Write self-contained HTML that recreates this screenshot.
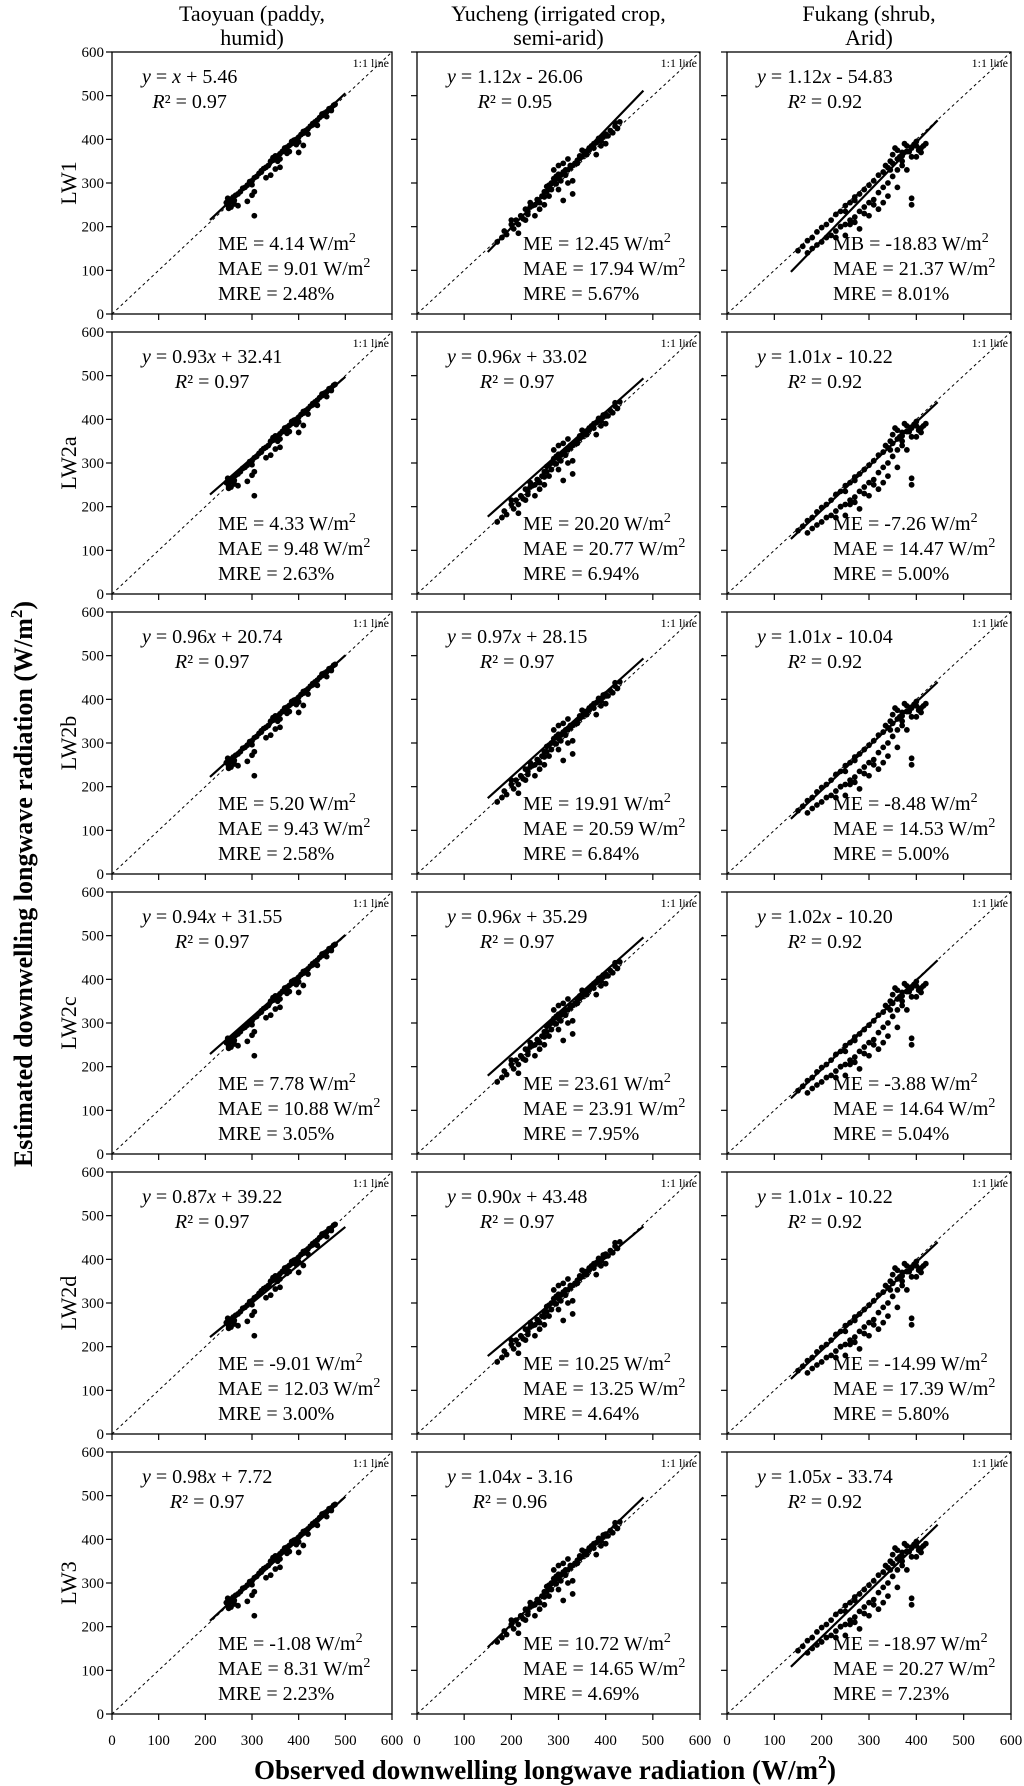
<!DOCTYPE html>
<html><head><meta charset="utf-8">
<style>
html,body{margin:0;padding:0;background:#fff;}
svg{display:block;font-family:"Liberation Serif",serif;}
</style></head>
<body>
<svg id="fig" width="1024" height="1786" viewBox="0 0 1024 1786" xmlns="http://www.w3.org/2000/svg"></svg>
<script>
// ---- data ----
const sites = ["Taoyuan","Yucheng","Fukang"];
const siteTitle1 = ["Taoyuan (paddy,","Yucheng (irrigated crop,","Fukang (shrub,"];
const siteTitle2 = ["humid)","semi-arid)","Arid)"];
const models = ["LW1","LW2a","LW2b","LW2c","LW2d","LW3"];
const xTicks = [0,100,200,300,400,500,600];
const yTicks = [0,100,200,300,400,500,600];

const taoObs = [245,250,252,255,258,262,265,270,275,280,285,290,295,300,305,310,315,320,325,330,335,340,345,350,355,360,365,370,375,380,385,390,395,400,405,410,415,420,425,430,435,440,445,450,455,460,465,470,475,478,
 250,260,300,320,340,350,360,370,380,390,400,410,420,430,440,450,460,470,
 270,290,300,305,340,330,350,360,400,410,305,248,255,262,345,355,365,375,385,395];
const taoEst = [255,248,262,258,265,260,272,275,280,288,290,295,303,305,312,315,322,325,333,336,340,349,352,356,362,367,372,375,382,386,390,396,400,405,411,414,420,424,430,433,440,444,450,454,460,463,470,472,478,480,
 242,268,296,328,350,362,355,380,372,398,394,418,412,436,432,458,452,466,
 248,258,272,280,318,312,332,336,370,386,225,265,245,252,358,350,372,368,395,388];

const yuObs = [170,180,185,190,200,205,210,215,220,225,230,235,240,245,250,255,260,265,270,275,280,285,290,295,300,305,310,315,320,325,330,335,340,345,350,355,360,365,370,375,380,385,390,395,400,405,410,415,420,425,430,
 200,215,230,240,260,270,280,290,300,310,320,340,360,380,400,420,250,270,300,330,350,390,330,310,290,300,310,320,
 235,255,275,285,295,305,315,325,345,355,365,375,385,395];
const yuEst = [165,175,190,182,205,195,215,205,225,218,240,228,245,248,250,262,255,270,268,280,295,285,300,298,310,305,325,318,330,335,340,345,352,356,360,368,372,375,385,380,392,398,396,405,412,408,420,415,430,425,440,
 215,185,215,255,240,280,270,310,285,322,300,345,365,365,390,438,225,250,320,305,375,385,275,260,330,340,345,355,
 235,262,292,300,315,318,330,340,362,372,380,390,402,410];

const fkObs = [150,160,170,180,190,200,210,220,230,240,250,260,270,280,290,300,310,320,330,340,350,360,370,380,390,400,410,420,
 170,180,190,200,210,220,230,240,250,260,270,280,290,300,310,320,330,340,350,360,370,
 230,240,250,260,270,280,290,300,310,320,330,340,390,390,250,270,360,380,400,
 350,360,370,380,390,400,355,365,375,385,395,405,345,415,335,345,370,390,410];
const fkEst = [145,155,168,175,188,198,205,215,228,235,248,255,268,275,285,295,305,318,325,335,345,355,362,372,382,385,380,390,
 140,150,158,165,175,180,190,200,205,215,222,235,245,255,262,278,290,300,315,330,340,
 175,200,180,205,210,195,230,225,250,240,255,270,250,265,235,260,290,330,360,
 365,375,370,385,380,395,380,360,390,372,388,375,350,385,340,330,350,360,370];

const obsBySite = [taoObs, yuObs, fkObs];
const estBySite = [taoEst, yuEst, fkEst];

// regression per panel [row][col]
const slopes = [[1.00,1.12,1.12],[0.93,0.96,1.01],[0.96,0.97,1.01],[0.94,0.96,1.02],[0.87,0.90,1.01],[0.98,1.04,1.05]];
const intercepts = [[5.46,-26.06,-54.83],[32.41,33.02,-10.22],[20.74,28.15,-10.04],[31.55,35.29,-10.20],[39.22,43.48,-10.22],[7.72,-3.16,-33.74]];
const r2 = [["0.97","0.95","0.92"],["0.97","0.97","0.92"],["0.97","0.97","0.92"],["0.97","0.97","0.92"],["0.97","0.97","0.92"],["0.97","0.96","0.92"]];
const meVals = [["4.14","12.45","-18.83"],["4.33","20.20","-7.26"],["5.20","19.91","-8.48"],["7.78","23.61","-3.88"],["-9.01","10.25","-14.99"],["-1.08","10.72","-18.97"]];
const maeVals = [["9.01","17.94","21.37"],["9.48","20.77","14.47"],["9.43","20.59","14.53"],["10.88","23.91","14.64"],["12.03","13.25","17.39"],["8.31","14.65","20.27"]];
const mreVals = [["2.48","5.67","8.01"],["2.63","6.94","5.00"],["2.58","6.84","5.00"],["3.05","7.95","5.04"],["3.00","4.64","5.80"],["2.23","4.69","7.23"]];
const fitStart = [210,150,135];
const fitEnd = [500,480,445];

// ---- layout ----
const colLeft = [112,417,727];
const colW = [280,283,284];
const rowTop = [52,332,612,892,1172,1452];
const rowH = 262;
const NS = "http://www.w3.org/2000/svg";
const svg = document.getElementById('fig');
function mk(tag, attrs, parent){
  const e = document.createElementNS(NS, tag);
  for (const k in attrs) e.setAttribute(k, attrs[k]);
  (parent||svg).appendChild(e);
  return e;
}

for (let c=0;c<3;c++){
  const cx = colLeft[c]+colW[c]/2;
  const t1 = mk('text',{x:cx,y:21,'text-anchor':'middle','font-size':'22'});
  
  
  const a = mk('tspan',{x:cx},t1); a.textContent = siteTitle1[c];
  const b = mk('tspan',{x:cx,dy:'24'},t1); b.textContent = siteTitle2[c];
}

for (let r=0;r<6;r++){
  const ly = rowTop[r]+rowH/2;
  const rl = mk('text',{x:0,y:0,'text-anchor':'middle','font-size':'22',transform:`translate(76,${ly}) rotate(-90)`});
  
  
  rl.textContent = models[r];

  for (let c=0;c<3;c++){
    const L = colLeft[c], T = rowTop[r], W = colW[c], H = rowH;
    const xs = v => L + v/600*W;
    const ys = v => T + H - v/600*H;
    const g = mk('g',{});
    
    
    const fr = mk('rect',{x:L,y:T,width:W,height:H,fill:'none',stroke:'#000','stroke-width':'1.3'},g);
    
    
    yTicks.forEach(v=>{
      const tk = mk('line',{x1:L-6,x2:L,y1:ys(v),y2:ys(v),stroke:'#000','stroke-width':'1.2'},g);
      
      
      if (c===0){
        const tl = mk('text',{x:L-8,y:ys(v)+5,'text-anchor':'end','font-size':'15'},g);
        
        
        tl.textContent = v;
      }
    });
    xTicks.forEach(v=>{
      const tk = mk('line',{x1:xs(v),x2:xs(v),y1:T+H,y2:T+H+6,stroke:'#000','stroke-width':'1.2'},g);
      
      
      if (r===5){
        const tl = mk('text',{x:xs(v),y:T+H+31,'text-anchor':'middle','font-size':'15'},g);
        
        
        tl.textContent = v;
      }
    });
    const oo = mk('line',{x1:xs(0),y1:ys(0),x2:xs(600),y2:ys(600),stroke:'#000','stroke-width':'1','stroke-dasharray':'3,3'},g);
    
    
    const ol = mk('text',{x:L+W-3,y:T+15,'text-anchor':'end','font-size':'12'},g);
    
    
    ol.textContent = '1:1 line';
    const obs = obsBySite[c], est = estBySite[c];
    const s = slopes[r][c], b0 = intercepts[r][c];
    const pts = mk('g',{},g);
    
    
    for (let i=0;i<obs.length;i++){
      const p = mk('circle',{cx:xs(obs[i]),cy:ys(est[i]),r:'2.9',fill:'#000'},pts);
      
      
    }
    const x0 = fitStart[c], x1 = fitEnd[c];
    const fl = mk('line',{x1:xs(x0),y1:ys(s*x0+b0),x2:xs(x1),y2:ys(s*x1+b0),stroke:'#000','stroke-width':'2.2'},g);
    
    
    const eq = mk('text',{x:L+30,y:T+31,'font-size':'20'},g);
    
    
    const e1 = mk('tspan',{'font-style':'italic'},eq); e1.textContent='y';
    const e2 = mk('tspan',{},eq); e2.textContent = ' = ' + (s===1 ? '' : s.toFixed(2));
    const e3 = mk('tspan',{'font-style':'italic'},eq); e3.textContent='x';
    const e4 = mk('tspan',{},eq); e4.textContent = (b0<0 ? ' - ' : ' + ') + Math.abs(b0).toFixed(2);
    const eqW = eq.getComputedTextLength();
    const rr = mk('text',{x:L+30+eqW/2,y:T+56,'font-size':'20','text-anchor':'middle'},g);
    
    
    const r1 = mk('tspan',{'font-style':'italic'},rr); r1.textContent='R';
    const r2s = mk('tspan',{},rr); r2s.textContent='² = '+r2[r][c];
    const sx = L+106;
    const meLab = (r===0 && c===2) ? 'MB' : 'ME';
    const st = [[meLab+' = '+meVals[r][c]+' W/m', true, 'mean-error'],['MAE = '+maeVals[r][c]+' W/m', true, 'mean-absolute-error'],['MRE = '+mreVals[r][c]+'%', false, 'mean-relative-error']];
    st.forEach((d,k)=>{
      const t = mk('text',{x:sx,y:T+H-64+25*k,'font-size':'20'},g);
      
      
      const a = mk('tspan',{},t); a.textContent = d[0];
      if (d[1]){ const sp = mk('tspan',{dy:'-8','font-size':'14'},t); sp.textContent='2'; }
    });
  }
}

const yt = mk('text',{x:0,y:0,'text-anchor':'middle','font-size':'26','font-weight':'bold',transform:'translate(32,884) rotate(-90)'});


const ya = mk('tspan',{},yt); ya.textContent='Estimated downwelling longwave radiation (W/m';
const yb = mk('tspan',{dy:'-10','font-size':'17'},yt); yb.textContent='2';
const yc = mk('tspan',{dy:'10'},yt); yc.textContent=')';

const xt = mk('text',{x:545,y:1779,'text-anchor':'middle','font-size':'27','font-weight':'bold'});


const xa = mk('tspan',{},xt); xa.textContent='Observed downwelling longwave radiation (W/m';
const xb = mk('tspan',{dy:'-11','font-size':'18'},xt); xb.textContent='2';
const xc = mk('tspan',{dy:'11'},xt); xc.textContent=')';
</script>
</body></html>
